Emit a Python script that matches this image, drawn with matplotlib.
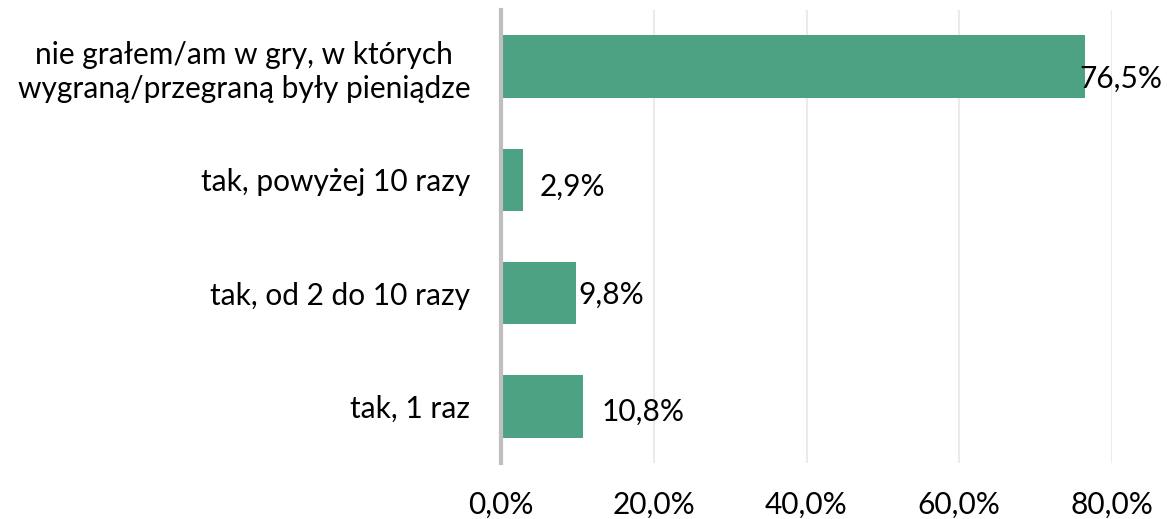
import matplotlib
matplotlib.use("Agg")
import matplotlib.pyplot as plt

categories = ["nie grałem/am w gry, w których\nwygraną/przegraną były pieniądze",
              "tak, powyżej 10 razy",
              "tak, od 2 do 10 razy",
              "tak, 1 raz"]
values = [76.5, 2.9, 9.8, 10.8]
value_labels = ["76,5%", "2,9%", "9,8%", "10,8%"]
xticks = [0, 20, 40, 60, 80]
xtick_labels = ["0,0%", "20,0%", "40,0%", "60,0%", "80,0%"]

plt.rcParams['font.family'] = ['Lato', 'DejaVu Sans']

fig = plt.figure(figsize=(11.67, 5.19), dpi=100)
ax = fig.add_axes([0.4293, 0.1079, 0.9529 - 0.4293, 0.9807 - 0.1079])

ypos = list(range(len(categories)))
ax.barh(ypos, values, height=0.55, color='#4da283', zorder=2)
ax.set_ylim(3.5, -0.5)
ax.set_xlim(0, 80)

ax.set_xticks(xticks)
ax.set_xticklabels(xtick_labels, fontsize=21.5)
ax.set_yticks(ypos)
ax.set_yticklabels(categories, fontsize=21.5, linespacing=1.25)
ax.tick_params(axis='x', length=0, pad=20)
ax.tick_params(axis='y', length=0, pad=22)
for lab in ax.get_yticklabels():
    lab.set_horizontalalignment('right')
    lab.set_multialignment('center')

ax.grid(axis='x', color='#ebebeb', linewidth=1.5, zorder=0)
for s in ['top', 'right', 'bottom']:
    ax.spines[s].set_visible(False)
ax.spines['left'].set_color('#bfbfbf')
ax.spines['left'].set_linewidth(3)
ax.spines['left'].set_zorder(3)

offsets = [(-4, 9), (12, 5), (2, 1), (13, 4)]
for i, (v, lab) in enumerate(zip(values, value_labels)):
    dx, dy = offsets[i]
    ax.annotate(lab, xy=(v, i), xytext=(dx, -dy), textcoords='offset points',
                ha='left', va='center', fontsize=21.5, zorder=4)

fig.savefig("out.png", dpi=100)
